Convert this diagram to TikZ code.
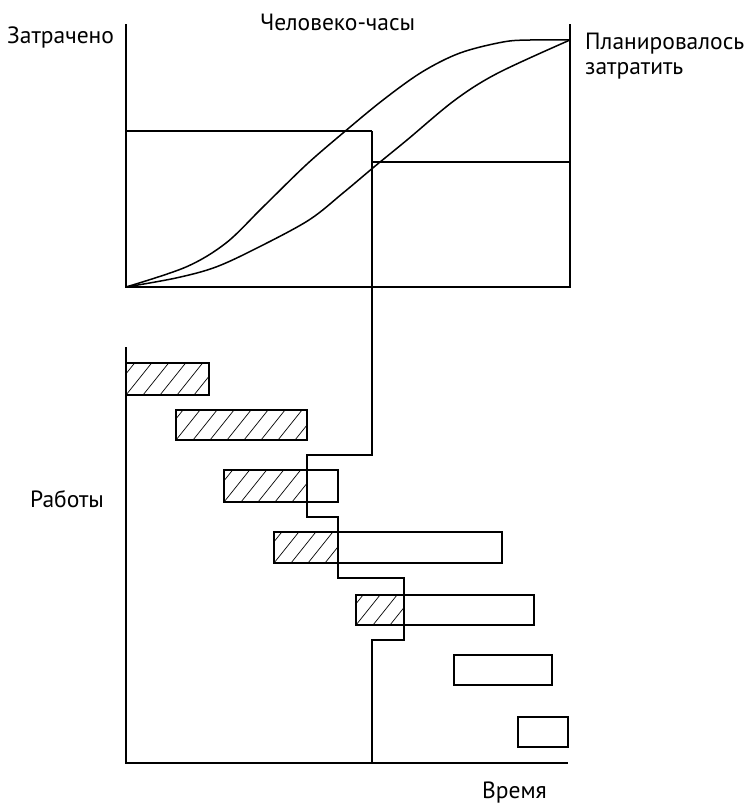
\documentclass[tikz,border=0pt]{standalone}
\usepackage{fontspec}
\setmainfont{PT Sans}
\begin{document}
\begin{tikzpicture}[x=1pt,y=-1pt,
  axis/.style={line width=1.6pt},
  curve/.style={line width=1.5pt},
  bar/.style={line width=1.6pt},
  hatchline/.style={line width=0.7pt},
  lbl/.style={anchor=base west,inner sep=0pt,font=\fontsize{23.5}{28}\selectfont}]
\useasboundingbox (0,0) rectangle (750,803);
% coordinates
\coordinate (tl) at (126,24);
\coordinate (bl) at (126,287);
\coordinate (tr) at (570,24);
\coordinate (br) at (570,287);
% labels
\node[lbl] (spent) at (7,43) {Затрачено};
\node[lbl] (mh) at (260,30) {Человеко-часы};
\node[lbl] (plan1) at (585,49) {Планировалось};
\node[lbl] (plan2) at (585,74) {затратить};
\node[lbl] (jobs) at (30,507) {Работы};
\node[lbl] (time) at (482,798) {Время};
% top chart frame
\draw[axis] (tl) -- (bl) -- (br) -- (tr);
\draw[axis] (126,131) -- (372,131);
\draw[axis] (372,162) -- (570,162);
% curves
\draw[curve] plot[smooth,tension=0.55] coordinates {(126,287) (186,267) (226,243) (263,207) (306,165) (343,133) (383,100) (422,72) (460,53) (503,42) (530,40) (570,40)};
\draw[curve] plot[smooth,tension=0.55] coordinates {(126,287) (176,278) (216,267) (259,247) (309,220) (343,193) (374,167) (407,140) (455,100) (498,73) (570,40)};
% bottom axes
\draw[axis] (126,347) -- (126,763) -- (568,763);
% hatching
\newcommand\hatchbox[4]{%
  \begin{scope}
  \clip (#1,#2) rectangle (#3,#4);
  \pgfmathsetmacro\hh{#4-#2}
  \foreach \k in {-3,...,9}{%
    \pgfmathsetmacro\xx{#1+17*\k}
    \draw[hatchline] (\xx,#4) -- ++(0.8*\hh,-\hh);}
  \end{scope}}
\hatchbox{126}{363}{209}{395}
\hatchbox{176}{410}{307}{440}
\hatchbox{224}{470}{307}{502}
\hatchbox{274}{532}{338}{563}
\hatchbox{356}{595}{404}{625}
% bars
\draw[bar] (126,363) rectangle (209,395);
\draw[bar] (176,410) rectangle (307,440);
\draw[bar] (224,470) rectangle (338,502);
\draw[bar] (274,532) rectangle (502,563);
\draw[bar] (356,595) rectangle (534,625);
\draw[bar] (454,655) rectangle (552,685);
\draw[bar] (518,717) rectangle (568,747);
% progress line
\draw[axis] (372,131) -- (372,455) -- (307,455) -- (307,517) -- (338,517) -- (338,578) -- (404,578) -- (404,640) -- (372,640) -- (372,763);
\end{tikzpicture}
\end{document}
